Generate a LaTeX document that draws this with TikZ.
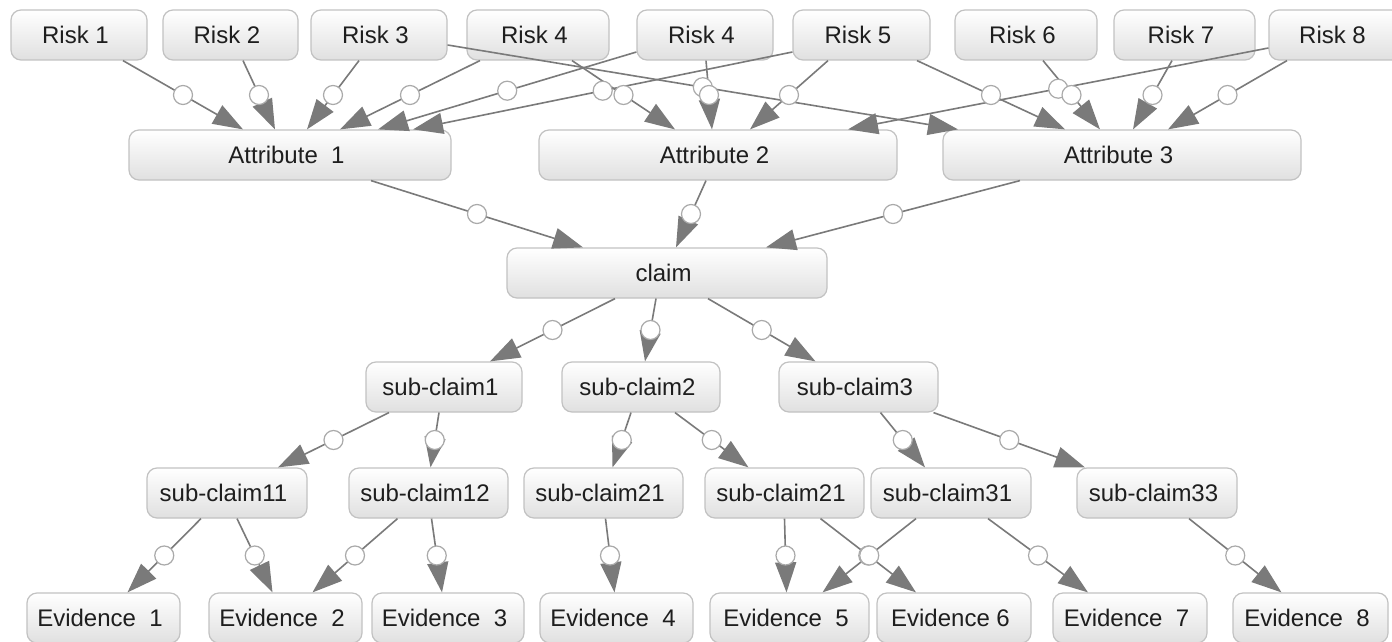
\documentclass[tikz,border=0pt]{standalone}
\usepackage{fontspec}
\setmainfont{Liberation Sans}
\usetikzlibrary{arrows.meta,calc}
\definecolor{boxborder}{HTML}{C2C2C2}
\definecolor{boxbottom}{HTML}{E0E0E0}
\definecolor{edgegray}{HTML}{7A7A7A}
\definecolor{knobgray}{HTML}{AAAAAA}
\definecolor{txt}{HTML}{1E1E1E}
\tikzset{
  box/.style={draw=boxborder, line width=1.2pt, rounded corners=10pt,
    top color=white, bottom color=boxbottom, minimum height=50pt,
    inner sep=0pt, text=txt, font={\fontsize{24pt}{28pt}\selectfont}},
  conn/.style={draw=edgegray, line width=1.6pt, -{Triangle[length=30pt,width=21pt]}},
  knob/.style={circle, draw=knobgray, fill=white, line width=1.2pt,
    minimum size=19pt, inner sep=0pt},
}
\newcommand\lbl[1]{#1\kern7pt}
\newcommand\lnkline[2]{\draw[conn] (#1) -- (#2);}
\newcommand\lnkknob[2]{\path (#1) -- node[knob, midway]{} (#2);}
\newcommand\alledges{%
\lnk{[xshift=44pt]r1.south}{[xshift=-47pt]a1.north}
\lnk{[xshift=12.5pt]r2.south}{[xshift=-15pt]a1.north}
\lnk{[xshift=-20pt]r3.south}{[xshift=17pt]a1.north}
\lnk{[xshift=-58pt]r4a.south}{[xshift=50pt]a1.north}
\lnk{[yshift=-17pt]r4b.west}{[xshift=88pt]a1.north}
\lnk{[yshift=-17pt]r5.west}{[xshift=123pt]a1.north}
\lnk{[yshift=-10pt]r3.east}{[xshift=-164pt]a3.north}
\lnk{[xshift=34pt]r4a.south}{[xshift=-43pt]a2.north}
\lnk{[xshift=1pt]r4b.south}{[xshift=-6pt]a2.north}
\lnk{[xshift=-33.5pt]r5.south}{[xshift=32pt]a2.north}
\lnk{[yshift=-13pt]r8.west}{[xshift=130pt]a2.north}
\lnk{[xshift=55.5pt]r5.south}{[xshift=-57pt]a3.north}
\lnk{[xshift=17pt]r6.south}{[xshift=-22pt]a3.north}
\lnk{[xshift=-12.5pt]r7.south}{[xshift=11pt]a3.north}
\lnk{[xshift=-49pt]r8.south}{[xshift=46pt]a3.north}
\lnk{[xshift=81pt]a1.south}{[xshift=-84pt]cl.north}
\lnk{[xshift=-12pt]a2.south}{[xshift=9pt]cl.north}
\lnk{[xshift=-102pt]a3.south}{[xshift=99pt]cl.north}
\lnk{[xshift=-52pt]cl.south}{[xshift=46pt]s1.north}
\lnk{[xshift=-11pt]cl.south}{[xshift=4pt]s2.north}
\lnk{[xshift=41pt]cl.south}{[xshift=-43pt]s3.north}
\lnk{[xshift=-55pt]s1.south}{[xshift=51pt]s11.north}
\lnk{[xshift=-5pt]s1.south}{[xshift=2pt]s12.north}
\lnk{[xshift=-10pt]s2.south}{[xshift=9pt]s21a.north}
\lnk{[xshift=34pt]s2.south}{[xshift=-36pt]s21b.north}
\lnk{[xshift=22pt]s3.south}{[xshift=-26pt]s31.north}
\lnk{[xshift=75pt]s3.south}{[xshift=-72pt]s33.north}
\lnk{[xshift=-26pt]s11.south}{[xshift=24pt]e1.north}
\lnk{[xshift=10pt]s11.south}{[xshift=-13pt]e2.north}
\lnk{[xshift=-31pt]s12.south}{[xshift=27pt]e2.north}
\lnk{[xshift=3pt]s12.south}{[xshift=-6pt]e3.north}
\lnk{[xshift=2pt]s21a.south}{[xshift=-2pt]e4.north}
\lnk{s21b.south}{[xshift=-3pt]e5.north}
\lnk{[xshift=36pt]s21b.south}{[xshift=-38pt]e6.north}
\lnk{[xshift=-35pt]s31.south}{[xshift=33pt]e5.north}
\lnk{[xshift=37pt]s31.south}{[xshift=-42pt]e7.north}
\lnk{[xshift=32pt]s33.south}{[xshift=-29pt]e8.north}
}
\begin{document}
\begin{tikzpicture}[x=1pt,y=-1pt]
\useasboundingbox (0,0) rectangle (1392,642);
\fill[white] (0,0) rectangle (1392,642);
% risks
\node[box, minimum width=136pt] (r1)  at (79,35)     {\lbl{Risk 1}};
\node[box, minimum width=135pt] (r2)  at (230.5,35)  {\lbl{Risk 2}};
\node[box, minimum width=136pt] (r3)  at (379,35)    {\lbl{Risk 3}};
\node[box, minimum width=142pt] (r4a) at (538,35)    {\lbl{Risk 4}};
\node[box, minimum width=136pt] (r4b) at (705,35)    {\lbl{Risk 4}};
\node[box, minimum width=137pt] (r5)  at (861.5,35)  {\lbl{Risk 5}};
\node[box, minimum width=142pt] (r6)  at (1026,35)   {\lbl{Risk 6}};
\node[box, minimum width=141pt] (r7)  at (1184.5,35) {\lbl{Risk 7}};
\node[box, minimum width=134pt] (r8)  at (1336,35)   {\lbl{Risk 8}};
% attributes
\node[box, minimum width=322pt] (a1) at (290,155)  {\lbl{Attribute\ \ 1}};
\node[box, minimum width=358pt] (a2) at (718,155)  {\lbl{Attribute 2}};
\node[box, minimum width=358pt] (a3) at (1122,155) {\lbl{Attribute 3}};
% claim
\node[box, minimum width=320pt] (cl) at (667,273) {\lbl{claim}};
% sub-claims
\node[box, minimum width=156pt] (s1) at (444,387) {\lbl{sub-claim1}};
\node[box, minimum width=158pt] (s2) at (641,387) {\lbl{sub-claim2}};
\node[box, minimum width=159pt] (s3) at (858.5,387) {\lbl{sub-claim3}};
% second level
\node[box, minimum width=160pt] (s11)  at (227,493)  {\lbl{sub-claim11}};
\node[box, minimum width=159pt] (s12)  at (428.5,493) {\lbl{sub-claim12}};
\node[box, minimum width=159pt] (s21a) at (603.5,493) {\lbl{sub-claim21}};
\node[box, minimum width=159pt] (s21b) at (784.5,493) {\lbl{sub-claim21}};
\node[box, minimum width=160pt] (s31)  at (951,493)  {\lbl{sub-claim31}};
\node[box, minimum width=160pt] (s33)  at (1157,493) {\lbl{sub-claim33}};
% evidence
\node[box, minimum width=153pt] (e1) at (103.5,618) {\lbl{Evidence\ \ 1}};
\node[box, minimum width=153pt] (e2) at (285.5,618) {\lbl{Evidence\ \ 2}};
\node[box, minimum width=152pt] (e3) at (448,618)   {\lbl{Evidence\ \ 3}};
\node[box, minimum width=153pt] (e4) at (616.5,618) {\lbl{Evidence\ \ 4}};
\node[box, minimum width=159pt] (e5) at (789.5,618) {\lbl{Evidence\ \ 5}};
\node[box, minimum width=154pt] (e6) at (954,618)   {\lbl{Evidence 6}};
\node[box, minimum width=154pt] (e7) at (1130,618)  {\lbl{Evidence\ \ 7}};
\node[box, minimum width=155pt] (e8) at (1310.5,618) {\lbl{Evidence\ \ 8}};
% connectors, then their circles
\let\lnk\lnkline
\alledges
\let\lnk\lnkknob
\alledges
\end{tikzpicture}
\end{document}
